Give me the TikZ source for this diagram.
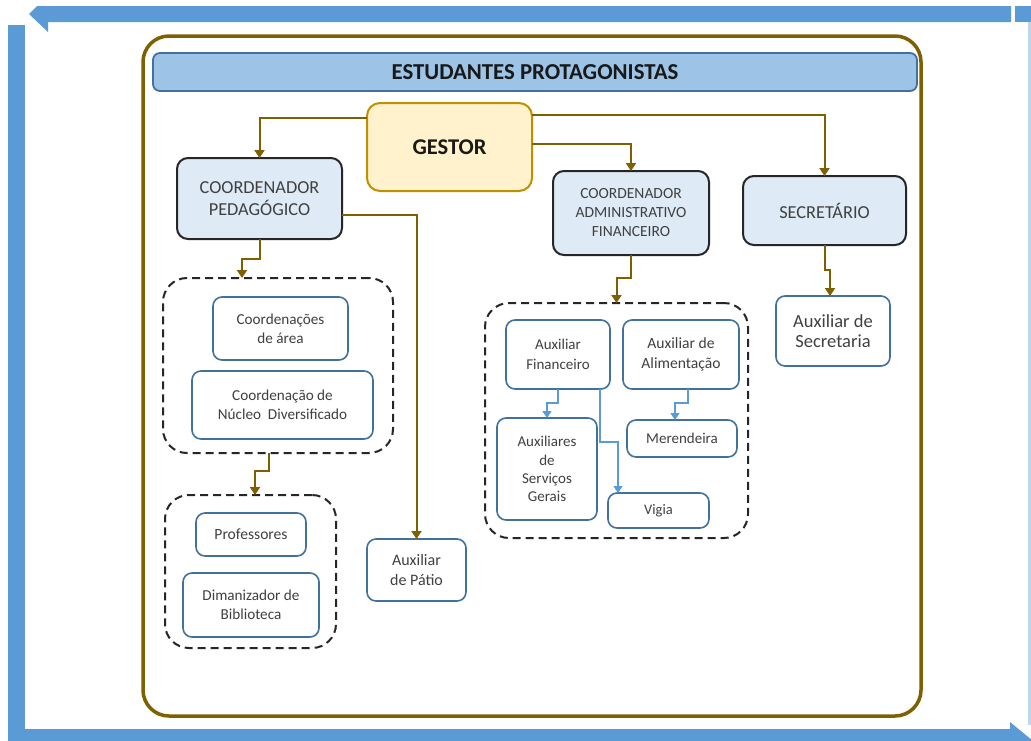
\documentclass[tikz,border=0pt]{standalone}
\usepackage{fontspec}
\setmainfont{Carlito}
\usetikzlibrary{arrows.meta}
\definecolor{frameblue}{HTML}{5B9BD5}
\definecolor{brownline}{HTML}{7F6000}
\definecolor{titlefill}{HTML}{9DC3E6}
\definecolor{titledraw}{HTML}{41719C}
\definecolor{gestfill}{HTML}{FFF2CC}
\definecolor{gestdraw}{HTML}{BF9000}
\definecolor{coordfill}{HTML}{DEEBF7}
\definecolor{boxdraw}{HTML}{41719C}
\definecolor{txt}{HTML}{404040}
\tikzset{
  coordbox/.style={draw=black!85, line width=2pt, fill=coordfill, rounded corners=11pt, inner sep=0pt, outer sep=0pt, align=center, text=txt},
  smallbox/.style={draw=boxdraw, line width=1.6pt, fill=white, rounded corners=9pt, inner sep=0pt, outer sep=0pt, align=center, text=txt, font=\fontsize{15.2}{19}\selectfont},
  grp/.style={draw=black!85, line width=2pt, dash pattern=on 8pt off 5pt, rounded corners=24pt, inner sep=0pt, outer sep=0pt},
  arr/.style={draw=brownline, line width=2pt, -{Triangle[width=10pt,length=8pt]}},
  barr/.style={draw=frameblue, line width=1.6pt, -{Triangle[width=9pt,length=7pt]}},
}
\begin{document}
\begin{tikzpicture}[x=1pt,y=-1pt]
\useasboundingbox (0,0) rectangle (1031,740);
\begin{scope}
\clip (0,0) rectangle (1031,740);
\fill[white] (0,0) rectangle (1031,740);
% blue frame arrows
\fill[frameblue] (29,14) -- (37,6) -- (1011,6) -- (1011,22) -- (48,22) -- (48,32) -- cycle;
\fill[frameblue] (1015,6) rectangle (1031,22);
\fill[frameblue!40] (1028,22) rectangle (1031,725);
\fill[frameblue] (8,25) rectangle (25,745);
\fill[frameblue] (8,729) -- (1010,729) -- (1010,722) -- (1038,745) -- (8,745) -- cycle;
\end{scope}
% brown frame
\draw[brownline, line width=3.5pt, rounded corners=26pt] (143,36) rectangle (921,716);
% title
\node[draw=titledraw, line width=1.8pt, fill=titlefill, rounded corners=7pt, minimum width=764pt, minimum height=38pt, inner sep=0pt, font=\fontsize{22.8}{26}\selectfont\bfseries, text=black!90] (title) at (535,72) {ESTUDANTES PROTAGONISTAS};
% gestor
\node[draw=gestdraw, line width=2pt, fill=gestfill, rounded corners=13pt, minimum width=165pt, minimum height=88pt, inner sep=0pt, outer sep=0pt, font=\fontsize{22.5}{26}\selectfont\bfseries, text=black!90] (G) at (449.5,147) {GESTOR};
% coordinators
\node[coordbox, minimum width=165pt, minimum height=81pt, font=\fontsize{18.3}{21.5}\selectfont] (CP) at (259.5,198.5) {COORDENADOR\\PEDAGÓGICO};
\node[coordbox, minimum width=156pt, minimum height=84pt, font=\fontsize{15.5}{19}\selectfont] (CAF) at (631,213) {COORDENADOR\\ADMINISTRATIVO\\FINANCEIRO};
\node[coordbox, minimum width=163pt, minimum height=69pt, font=\fontsize{18.3}{21.5}\selectfont] (SEC) at (824.5,210.5) {SECRETÁRIO};
% groups
\node[grp, minimum width=230pt, minimum height=175pt] (G1) at (278,365.5) {};
\node[grp, minimum width=171pt, minimum height=153pt] (G2) at (250.5,571.5) {};
\node[grp, minimum width=263pt, minimum height=235pt] (G3) at (616.5,420.5) {};
% small boxes
\node[smallbox, minimum width=135pt, minimum height=63pt] (CA) at (280.5,328.5) {Coordenações\\de área};
\node[smallbox, minimum width=181pt, minimum height=68pt] (CN) at (282.5,405) {Coordenação de\\Núcleo\ \ Diversificado};
\node[smallbox, minimum width=110pt, minimum height=43pt, font=\fontsize{15.6}{19}\selectfont] (PR) at (251,534.5) {Professores};
\node[smallbox, minimum width=136pt, minimum height=64pt] (DB) at (251,605) {Dimanizador de\\Biblioteca};
\node[smallbox, minimum width=99pt, minimum height=62pt, font=\fontsize{16}{19.5}\selectfont] (AP) at (416.5,570) {Auxiliar\\de Pátio};
\node[smallbox, minimum width=104pt, minimum height=69pt, font=\fontsize{15}{19.5}\selectfont] (AF) at (558,354.5) {Auxiliar\\Financeiro};
\node[smallbox, minimum width=116pt, minimum height=69pt, font=\fontsize{15.6}{19.5}\selectfont] (AA) at (681,354.5) {Auxiliar de\\Alimentação};
\node[smallbox, minimum width=100pt, minimum height=102pt, font=\fontsize{15}{18.3}\selectfont] (ASG) at (547,469) {Auxiliares\\de\\Serviços\\Gerais};
\node[smallbox, minimum width=110pt, minimum height=37pt, font=\fontsize{15}{18}\selectfont] (MER) at (682,438.5) {Merendeira};
\node[smallbox, minimum width=101pt, minimum height=35pt, font=\fontsize{14.5}{18}\selectfont] (VIG) at (658.5,510.5) {Vigia};
\node[smallbox, minimum width=114pt, minimum height=70pt, font=\fontsize{18.5}{20.5}\selectfont] (AS) at (833,331) {Auxiliar de\\Secretaria};
% brown connectors
\draw[arr] ([yshift=29pt]G.west) -| (CP.north);
\draw[arr] ([yshift=3pt]G.east) -| (CAF.north);
\draw[arr] ([yshift=32pt]G.east) -| (SEC.north);
\draw[arr] ([yshift=-16.5pt]CP.east) -| (AP.north);
\draw[arr] (CP.south) -- ++(0,20) -| ([xshift=-36pt]G1.north);
\draw[arr] ([xshift=-9pt]G1.south) -- ++(0,18) -| ([xshift=4.5pt]G2.north);
\draw[arr] (CAF.south) -- ++(0,23) -| (G3.north);
\draw[arr] (SEC.south) -- ++(0,25) -| ([xshift=-3pt]AS.north);
% blue connectors
\draw[barr] (AF.south) -- ++(0,14) -| (ASG.north);
\draw[barr] ([xshift=42pt]AF.south) -- ++(0,53) -| ([xshift=-40.5pt]VIG.north);
\draw[barr] ([xshift=7pt]AA.south) -- ++(0,14) -| ([xshift=-7pt]MER.north);
\end{tikzpicture}
\end{document}
